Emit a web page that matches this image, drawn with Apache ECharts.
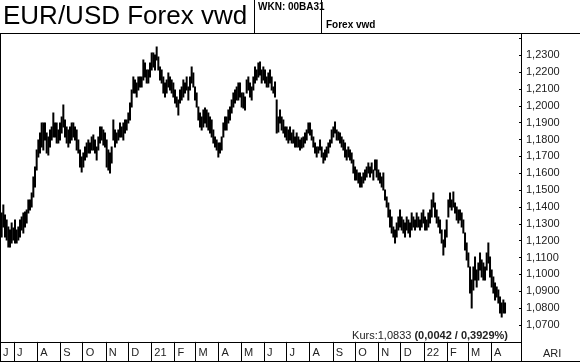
<!DOCTYPE html>
<html><head><meta charset="utf-8">
<script src="https://cdn.jsdelivr.net/npm/echarts@6/dist/echarts.min.js"></script>
<style>html,body{margin:0;padding:0;background:#fff}#c{width:580px;height:362px}</style>
</head><body><div id="c"></div>
<script>
// Axis span (left edge / right edge of the plot) and sample spacing of the readings
const axisStart = '2020-06-12T06:00:00';
const axisEnd = '2022-05-12T12:00:00';
const sampleStepDays = 2.2327;

// Month tick labels (bottom strip) and the dates they mark
const monthLabels = ['J','J','A','S','O','N','D','21','F','M','A','M','J','J','A','S','O','N','D','22','F','M','A'];
const monthStarts = ['2020-06-12T06:00:00','2020-07-01T00:00:00','2020-08-01T00:00:00','2020-09-01T00:00:00','2020-10-01T00:00:00','2020-11-01T00:00:00','2020-12-01T00:00:00','2021-01-01T00:00:00','2021-02-01T00:00:00','2021-03-01T00:00:00','2021-04-01T00:00:00','2021-05-01T00:00:00','2021-06-01T00:00:00','2021-07-01T00:00:00','2021-08-01T00:00:00','2021-09-01T00:00:00','2021-10-01T00:00:00','2021-11-01T00:00:00','2021-12-01T00:00:00','2022-01-01T00:00:00','2022-02-01T00:00:00','2022-03-01T00:00:00','2022-04-01T00:00:00'];

// Price axis
const yMin = 1.06, yMax = 1.24, yStep = 0.01;

// High / low ranges
const highs = [
1.1365,1.1412,1.1353,1.1323,1.1282,1.1264,1.1305,1.1276,1.1323,1.1264,
1.1282,1.1323,1.1341,1.1365,1.1371,1.1382,1.1442,1.1442,1.1483,1.1578,
1.1637,1.1738,1.1797,1.1839,1.1898,1.1898,1.1898,1.1839,1.1815,1.1857,
1.1875,1.1958,1.1898,1.1898,1.1857,1.1898,1.1934,1.2005,1.1916,1.1875,
1.1857,1.1875,1.1898,1.1898,1.1875,1.1857,1.1797,1.1738,1.1697,1.1720,
1.1756,1.1780,1.1797,1.1780,1.1815,1.1827,1.1797,1.1756,1.1815,1.1875,
1.1875,1.1857,1.1839,1.1797,1.1738,1.1720,1.1756,1.1916,1.1857,1.1839,
1.1857,1.1898,1.1875,1.1898,1.1916,1.1916,1.1958,1.2017,1.2094,1.2171,
1.2153,1.2136,1.2171,1.2171,1.2171,1.2272,1.2254,1.2213,1.2213,1.2254,
1.2313,1.2313,1.2302,1.2349,1.2290,1.2230,1.2213,1.2171,1.2136,1.2153,
1.2195,1.2171,1.2153,1.2136,1.2094,1.2052,1.2035,1.2094,1.2112,1.2153,
1.2136,1.2171,1.2112,1.2171,1.2230,1.2195,1.2112,1.2076,1.1993,1.1958,
1.1934,1.1975,1.1987,1.1975,1.1958,1.1934,1.1916,1.1857,1.1815,1.1797,
1.1780,1.1780,1.1815,1.1898,1.1934,1.1934,1.1975,1.1993,1.2035,1.2076,
1.2094,1.2112,1.2136,1.2136,1.2076,1.2076,1.2052,1.2153,1.2171,1.2136,
1.2112,1.2171,1.2230,1.2213,1.2254,1.2260,1.2213,1.2230,1.2213,1.2171,
1.2195,1.2213,1.2171,1.2112,1.2141,1.2035,1.1934,1.1975,1.1934,1.1916,
1.1875,1.1875,1.1857,1.1875,1.1839,1.1857,1.1815,1.1839,1.1815,1.1797,
1.1809,1.1815,1.1839,1.1857,1.1898,1.1898,1.1857,1.1815,1.1780,1.1756,
1.1756,1.1797,1.1756,1.1720,1.1738,1.1756,1.1780,1.1797,1.1857,1.1875,
1.1904,1.1857,1.1845,1.1839,1.1815,1.1797,1.1780,1.1738,1.1756,1.1738,
1.1720,1.1679,1.1637,1.1620,1.1602,1.1602,1.1578,1.1602,1.1620,1.1637,
1.1661,1.1637,1.1661,1.1620,1.1679,1.1679,1.1620,1.1602,1.1578,1.1602,
1.1501,1.1460,1.1424,1.1382,1.1341,1.1282,1.1264,1.1305,1.1341,1.1382,
1.1341,1.1323,1.1305,1.1341,1.1323,1.1305,1.1365,1.1341,1.1323,1.1365,
1.1341,1.1323,1.1365,1.1382,1.1341,1.1323,1.1365,1.1382,1.1442,1.1483,
1.1424,1.1382,1.1341,1.1323,1.1264,1.1205,1.1264,1.1323,1.1442,1.1483,
1.1442,1.1489,1.1424,1.1400,1.1382,1.1382,1.1365,1.1323,1.1246,1.1187,
1.1127,1.1044,1.0967,1.1044,1.1104,1.1027,1.1068,1.1127,1.1086,1.1068,
1.1044,1.1127,1.1187,1.1104,1.1027,1.0985,1.0950,1.0926,1.0908,1.0867,
1.0831,1.0849,1.0831
];
const lows = [
1.1222,1.1282,1.1222,1.1205,1.1163,1.1163,1.1187,1.1205,1.1187,1.1187,
1.1205,1.1222,1.1264,1.1246,1.1282,1.1305,1.1365,1.1382,1.1400,1.1460,
1.1519,1.1620,1.1697,1.1720,1.1756,1.1738,1.1797,1.1720,1.1709,1.1756,
1.1797,1.1815,1.1815,1.1780,1.1780,1.1797,1.1839,1.1875,1.1815,1.1780,
1.1756,1.1780,1.1797,1.1815,1.1797,1.1738,1.1720,1.1637,1.1608,1.1637,
1.1679,1.1697,1.1720,1.1720,1.1738,1.1738,1.1720,1.1679,1.1738,1.1780,
1.1797,1.1768,1.1756,1.1637,1.1620,1.1602,1.1661,1.1797,1.1756,1.1780,
1.1797,1.1815,1.1815,1.1797,1.1839,1.1857,1.1898,1.1916,1.1993,1.2076,
1.2076,1.2052,1.2094,1.2112,1.2112,1.2153,1.2171,1.2136,1.2136,1.2171,
1.2213,1.2230,1.2213,1.2272,1.2213,1.2153,1.2136,1.2076,1.2052,1.2076,
1.2112,1.2094,1.2076,1.2052,1.2017,1.1993,1.1946,1.2017,1.2035,1.2052,
1.2076,1.2094,1.2035,1.2094,1.2136,1.2112,1.2035,1.1993,1.1916,1.1875,
1.1857,1.1875,1.1898,1.1875,1.1857,1.1839,1.1815,1.1780,1.1756,1.1738,
1.1697,1.1720,1.1738,1.1815,1.1857,1.1857,1.1898,1.1916,1.1958,1.1993,
1.2017,1.2035,1.2035,1.2052,1.1993,1.1987,1.1975,1.2076,1.2094,1.2052,
1.2035,1.2094,1.2136,1.2153,1.2171,1.2183,1.2136,1.2153,1.2136,1.2112,
1.2112,1.2136,1.2094,1.2076,1.2052,1.1839,1.1845,1.1898,1.1857,1.1839,
1.1815,1.1797,1.1780,1.1797,1.1780,1.1780,1.1756,1.1756,1.1756,1.1738,
1.1750,1.1756,1.1780,1.1797,1.1839,1.1827,1.1797,1.1756,1.1720,1.1697,
1.1720,1.1738,1.1697,1.1661,1.1679,1.1697,1.1720,1.1756,1.1780,1.1815,
1.1839,1.1797,1.1797,1.1780,1.1756,1.1738,1.1697,1.1679,1.1697,1.1679,
1.1661,1.1602,1.1560,1.1560,1.1543,1.1519,1.1519,1.1543,1.1560,1.1578,
1.1602,1.1578,1.1602,1.1560,1.1620,1.1578,1.1560,1.1543,1.1519,1.1501,
1.1442,1.1400,1.1341,1.1282,1.1246,1.1222,1.1187,1.1222,1.1264,1.1282,
1.1264,1.1246,1.1222,1.1264,1.1246,1.1222,1.1264,1.1282,1.1264,1.1282,
1.1282,1.1264,1.1282,1.1305,1.1264,1.1264,1.1282,1.1305,1.1341,1.1400,
1.1341,1.1305,1.1282,1.1246,1.1187,1.1116,1.1163,1.1222,1.1341,1.1400,
1.1382,1.1400,1.1365,1.1323,1.1305,1.1323,1.1282,1.1246,1.1145,1.1086,
1.1044,1.0890,1.0801,1.0908,1.0967,1.0926,1.0967,1.1027,1.0985,1.0967,
1.0967,1.1027,1.1068,1.0985,1.0926,1.0890,1.0849,1.0867,1.0831,1.0772,
1.0748,1.0772,1.0772
];

const t0 = new Date(axisStart).getTime();
const tEnd = new Date(axisEnd).getTime();
const seriesData = highs.map((h, i) => [t0 + (i + 1) * sampleStepDays * 864e5, h, lows[i]]);
const monthTimes = monthStarts.map(s => new Date(s).getTime());

const FONT = '"Liberation Sans", Arial, sans-serif';
const chart = echarts.init(document.getElementById('c'), null, {renderer: 'canvas'});
chart.setOption({
  animation: false,
  backgroundColor: '#fff',
  grid: {left: 0, right: 58, top: 38.4, bottom: 20.1, containLabel: false},
  xAxis: {
    type: 'value', min: t0, max: tEnd, scale: true,
    axisLine: {show: false},
    splitLine: {show: false},
    axisTick: {show: true, inside: false, length: 20, lineStyle: {color: '#000', width: 1}, customValues: monthTimes},
    axisLabel: {
      customValues: monthTimes, align: 'left', margin: 6, padding: [0, 0, 0, 3],
      fontFamily: FONT, fontSize: 11, color: '#222',
      formatter: (v) => {
        let best = 0, bd = Infinity;
        monthTimes.forEach((t, i) => { const d = Math.abs(t - v); if (d < bd) { bd = d; best = i; } });
        return monthLabels[best];
      }
    }
  },
  yAxis: {
    type: 'value', position: 'right', min: yMin, max: yMax, interval: yStep,
    axisLine: {show: false},
    splitLine: {show: false},
    axisTick: {show: true, inside: true, length: 3, lineStyle: {color: '#000'}},
    axisLabel: {
      margin: 4, fontFamily: FONT, fontSize: 11, color: '#222',
      formatter: v => (Math.abs(v - yMin) < 1e-6 || Math.abs(v - yMax) < 1e-6) ? '' : v.toFixed(4).replace('.', ',')
    }
  },
  series: [{
    type: 'custom', silent: true, clip: true,
    encode: {x: 0, y: [1, 2]},
    data: seriesData,
    renderItem: (params, api) => {
      const hi = api.coord([api.value(0), api.value(1)]);
      const lo = api.coord([api.value(0), api.value(2)]);
      return {type: 'line', shape: {x1: hi[0], y1: hi[1] - 0.5, x2: lo[0], y2: lo[1] + 0.5},
        style: {stroke: '#000', lineWidth: 2}};
    }
  }],
  graphic: [
    {type: 'text', left: 3, top: 4, style: {text: 'EUR/USD Forex vwd', font: '26px ' + FONT, fill: '#000'}},
    {type: 'text', left: 258, top: 2, style: {text: 'WKN: 00BA31', font: 'bold 10px ' + FONT, fill: '#000'}},
    {type: 'text', left: 326, top: 20, style: {text: 'Forex vwd', font: 'bold 10px ' + FONT, fill: '#000'}},
    {type: 'line', shape: {x1: 254.5, y1: 0, x2: 254.5, y2: 33}, style: {stroke: '#000', lineWidth: 1}},
    {type: 'line', shape: {x1: 321.5, y1: 0, x2: 321.5, y2: 33}, style: {stroke: '#000', lineWidth: 1}},
    {type: 'line', shape: {x1: 0, y1: 33.5, x2: 580, y2: 33.5}, style: {stroke: '#000', lineWidth: 1}},
    {type: 'line', shape: {x1: 0.5, y1: 33, x2: 0.5, y2: 362}, style: {stroke: '#000', lineWidth: 1}},
    {type: 'line', shape: {x1: 521.5, y1: 33, x2: 521.5, y2: 362}, style: {stroke: '#000', lineWidth: 1}},
    {type: 'line', shape: {x1: 0, y1: 342.5, x2: 522, y2: 342.5}, style: {stroke: '#000', lineWidth: 1}},
    {type: 'line', shape: {x1: 0, y1: 361.5, x2: 580, y2: 361.5}, style: {stroke: '#000', lineWidth: 1}},
    {type: 'text', left: 543, top: 348, style: {text: 'ARI', font: '11px ' + FONT, fill: '#222'}},
    {type: 'text', right: 72, top: 330, style: {
      rich: {n: {font: '11px ' + FONT, fill: '#222'}, b: {font: 'bold 11px ' + FONT, fill: '#222'}},
      text: '{n|Kurs:1,0833 }{b|(0,0042 / 0,3929%)}'}}
  ]
});
</script></body></html>
